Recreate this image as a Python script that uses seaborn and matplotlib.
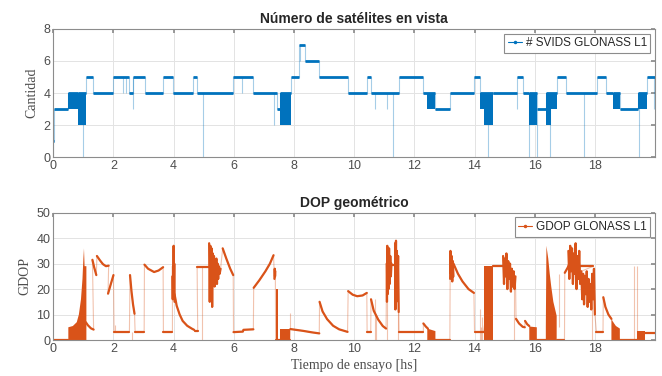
import numpy as np
import pandas as pd
import matplotlib
matplotlib.use("Agg")
import matplotlib.pyplot as plt
import seaborn as sns
from matplotlib.lines import Line2D

# ---- datos: numero de satelites (escalones) ----
sv_t = [0.0, 0.02, 0.5, 0.83, 1.09, 1.31, 1.98, 2.51, 2.64, 3.05,
        3.64, 3.99, 4.65, 4.77, 5.98, 6.65, 7.42, 7.53, 7.89, 8.17,
        8.36, 8.84, 9.78, 10.42, 10.55, 11.5, 12.3, 12.68, 13.18, 13.98,
        14.17, 14.6, 15.4, 15.62, 15.82, 16.07, 16.37, 16.73, 17.04, 18.08,
        18.37, 18.61, 18.83, 19.44, 19.72, 20.0]
sv_n = [1, 3, 4, 4, 5, 4, 5, 4, 5, 4,
        5, 4, 5, 4, 5, 4, 3, 4, 5, 7,
        6, 5, 4, 5, 4, 5, 4, 3, 4, 5,
        4, 4, 5, 4, 4, 3, 4, 5, 4, 5,
        4, 4, 3, 4, 5, 5]

# zonas donde la cantidad oscila rapido
sv_band_t0 = [0.5, 0.83, 7.53, 12.43, 14.17, 14.3, 15.82, 16.37, 16.53, 18.61, 19.44]
sv_band_t1 = [0.83, 1.09, 7.89, 12.68, 14.3, 14.6, 16.07, 16.53, 16.73, 18.83, 19.72]
sv_band_lo = [3, 2, 2, 3, 3, 2, 2, 2, 3, 3, 3]
sv_band_hi = [4, 4, 4, 4, 4, 4, 4, 4, 4, 4, 4]

# caidas puntuales
sv_spike_t = [0.0, 1.0, 2.32, 2.42, 2.64, 4.96, 6.27, 7.34, 8.2, 10.7,
              11.1, 11.3, 14.46, 15.4, 15.82, 16.07, 16.5, 17.64, 19.47, 19.97]
sv_spike_lo = [0, 0, 4, 4, 3, 0, 4, 2, 6, 3, 3, 0, 0, 3, 0, 0, 0, 0, 0, 3]
sv_spike_hi = [3, 4, 5, 5, 5, 4, 5, 4, 7, 4, 4, 4, 4, 4, 4, 3, 4, 4, 4, 5]

# ---- datos: GDOP (tramos separados por nan) ----
nan = np.nan
gdop_t = [0, 0.5, nan,
          1.08, 1.15, 1.25, 1.34, nan,
          1.3, 1.36, 1.43, nan,
          1.45, 1.55, 1.65, 1.75, 1.84, nan,
          1.82, 1.9, 2.0, nan,
          2.02, 2.53, nan,
          2.55, 2.6, 2.65, 2.7, nan,
          2.72, 3.02, nan,
          3.03, 3.15, 3.35, 3.5, 3.65, nan,
          3.66, 3.96, nan,
          3.96, 3.97, 3.98, 3.99, 4.0, 4.01, 4.02, 4.03, nan,
          4.03, 4.1, 4.2, 4.3, 4.45, 4.6, 4.68, nan,
          4.7, 4.8, nan,
          4.78, 5.17, nan,
          5.18, 5.2, 5.22, 5.24, 5.26, 5.28, 5.3, 5.32, 5.34, 5.36,
          5.38, 5.4, 5.42, 5.44, 5.46, 5.48, 5.5, 5.53, 5.56, nan,
          5.63, 5.75, 5.88, 5.98, nan,
          5.99, 6.3, 6.32, 6.65, nan,
          6.66, 6.85, 7.05, 7.2, 7.32, nan,
          7.35, 7.36, 7.37, 7.38, nan,
          7.39, 7.87, nan,
          7.88, 8.3, 8.6, 8.84, nan,
          8.85, 8.95, 9.1, 9.3, 9.5, 9.78, nan,
          9.8, 9.95, 10.1, 10.28, 10.42, nan,
          10.43, 10.55, nan,
          10.56, 10.65, 10.8, 10.95, 11.06, nan,
          11.08, 11.09, 11.1, 11.11, 11.13, 11.14, 11.16, 11.18, 11.2, 11.22, 11.24, nan,
          11.25, 11.35, nan,
          11.36, 11.37, 11.39, 11.4, 11.42, 11.44, 11.46, 11.48, nan,
          11.49, 12.3, nan,
          12.3, 12.38, 12.45, nan,
          12.7, 13.18, nan,
          13.19, 13.2, 13.22, 13.24, 13.26, 13.28, 13.3, nan,
          13.3, 13.45, 13.6, 13.8, 13.98, nan,
          14.0, 14.3, nan,
          14.6, 15.0, nan,
          14.95, 14.98, 15.0, 15.03, 15.06, 15.09, 15.12, 15.15, 15.18, 15.21,
          15.24, 15.27, 15.3, 15.33, 15.36, nan,
          15.38, 15.48, 15.6, 15.67, nan,
          15.68, 15.75, 15.82, nan,
          16.07, 16.37, nan,
          16.74, 16.99, nan,
          17.0, 17.1, 17.2, nan,
          17.12, 17.15, 17.18, 17.21, 17.24, 17.27, 17.3, 17.33, 17.36, 17.39,
          17.42, 17.45, 17.48, 17.51, nan,
          17.52, 17.95, nan,
          17.55, 17.58, 17.61, 17.64, 17.67, 17.7, 17.73, 17.76, 17.79, 17.82,
          17.85, 17.88, 17.91, 17.94, 17.97, 18.0, nan,
          18.05, 18.27, nan,
          18.28, 18.35, 18.45, 18.55, nan,
          18.83, 19.4, nan,
          19.67, 20.0]
gdop_v = [0, 0, nan,
          7.0, 5.8, 4.6, 4.1, nan,
          31.5, 28.5, 25.5, nan,
          33, 31.3, 29.8, 29, 29.2, nan,
          18.2, 21.5, 25.5, nan,
          3, 3, nan,
          25.5, 19, 14, 10.3, nan,
          3, 3, nan,
          29.6, 28, 26.7, 27.3, 28.6, nan,
          3, 3, nan,
          25, 16, 29, 20, 37, 18, 30, 15, nan,
          18, 13.5, 10, 7.5, 5.6, 4.5, 4.0, nan,
          3.5, 3.5, nan,
          28.7, 28.7, nan,
          38, 15, 37, 22, 36, 13, 34, 25, 33, 21,
          31, 26, 32, 22, 30, 24, 29, 26, 28, nan,
          36, 32, 28, 25.5, nan,
          3.1, 3.3, 4.0, 4.2, nan,
          20.5, 23.5, 27, 30, 33.3, nan,
          24, 28, 25, 27, nan,
          0, 0, nan,
          4.3, 3.6, 3.0, 2.6, nan,
          15, 11.2, 8.2, 5.6, 4.2, 3.2, nan,
          19.2, 17.8, 17.2, 17.5, 18.5, nan,
          3, 3, nan,
          16, 11.5, 8, 5.5, 4.5, nan,
          30, 15, 37, 18, 35, 20, 36, 22, 33, 25, 30, nan,
          29.3, 29.3, nan,
          38, 12, 39, 15, 35, 20, 33, 11, nan,
          3, 3, nan,
          6.5, 5.3, 4.5, nan,
          0, 0, nan,
          24, 35, 26, 33, 23, 31, 25, nan,
          30, 26, 23, 20, 18.5, nan,
          3.2, 3.2, nan,
          29, 29, nan,
          33, 22, 32, 25, 34, 20, 31, 24, 30, 19,
          28, 21, 27, 20, 25, nan,
          8.3, 6.5, 5.2, 5.0, nan,
          7.5, 6.2, 5.5, nan,
          0, 0, nan,
          0, 0, nan,
          26.4, 28.5, 31.3, nan,
          35, 24, 37, 27, 36, 22, 34, 26, 38, 20,
          33, 24, 35, 22, nan,
          29, 29, nan,
          27, 16, 26, 14, 25, 18, 27, 13, 24, 15,
          22, 12, 26, 16, 28, 10, nan,
          3.3, 3.3, nan,
          16.8, 13, 10, 8.3, nan,
          0, 0, nan,
          2.7, 2.7]

# zonas rellenas (desde 0 hasta la envolvente)
gdop_fill_t = [0.5, 0.65, 0.78, 0.85, 0.92, 0.97, 1.0, 1.02, 1.04, 1.1, nan,
               7.4, 7.47, nan, 7.53, 7.87, nan, 12.43, 12.7, nan,
               14.3, 14.6, nan, 15.82, 16.07, nan,
               16.37, 16.39, 16.45, 16.5, 16.55, 16.62, 16.68, 16.73, nan,
               18.55, 18.7, 18.83, nan, 19.4, 19.67]
gdop_fill_top = [5, 5.5, 7, 10, 16, 24, 32, 36, 29, 29, nan,
                 20, 20, nan, 4.3, 4.3, nan, 4.5, 3.5, nan,
                 29, 29, nan, 5.3, 5.0, nan,
                 5, 37, 32, 26, 21, 15, 12, 9.5, nan,
                 8, 5.5, 4.5, nan, 3.4, 3.4]

gdop_spike_t = [2.05, 2.6, 4.95, 7.87, 10.68, 10.74, 11.1, 11.45, 12.6,
                14.18, 14.22, 14.26, 15.3, 16.8, 17.9, 19.3, 19.4]
gdop_spike_lo = [3, 0, 0, 4.3, 0, 0, 0, 0, 0, 0, 0, 0, 0, 5, 0, 0, 0]
gdop_spike_hi = [6, 3, 28.7, 10.7, 16, 10, 15, 11, 3, 12, 5, 9, 20, 26, 20, 29, 29]

azul = "#0072BD"
naranja = "#D95319"

sns.set_theme(style="whitegrid")
plt.rcParams["font.family"] = ["Liberation Sans", "DejaVu Sans"]

fig = plt.figure(figsize=(6.62, 3.76), dpi=100)
ax1 = fig.add_axes([0.0805, 0.5824, 0.909, 0.3405])
ax2 = fig.add_axes([0.0805, 0.0957, 0.909, 0.3386])

# ---- panel superior ----
sv = pd.DataFrame({"t": sv_t, "n": sv_n})
sns.lineplot(data=sv, x="t", y="n", ax=ax1, color=azul, lw=0.8, alpha=0.35,
             drawstyle="steps-post", estimator=None, sort=False)
ax1.hlines(sv_n[:-1], sv_t[:-1], sv_t[1:], color=azul, lw=2.0)
for t0, t1, lo, hi in zip(sv_band_t0, sv_band_t1, sv_band_lo, sv_band_hi):
    ax1.fill_between([t0, t1], lo, hi, color=azul, lw=0)
ax1.vlines(sv_spike_t, sv_spike_lo, sv_spike_hi, color=azul, lw=0.8, alpha=0.35)

# ---- panel inferior ----
gd = pd.DataFrame({"t": gdop_t, "v": gdop_v})
gd["tramo"] = gd["t"].isna().cumsum()
gd = gd.dropna()
sns.lineplot(data=gd, x="t", y="v", ax=ax2, color=naranja, lw=0.8, alpha=0.35,
             estimator=None, sort=False)
sns.lineplot(data=gd, x="t", y="v", units="tramo", ax=ax2, color=naranja, lw=1.6,
             estimator=None, sort=False)
ax2.fill_between(gdop_fill_t, 0, gdop_fill_top, color=naranja, lw=0)
ax2.vlines(gdop_spike_t, gdop_spike_lo, gdop_spike_hi, color=naranja, lw=0.8, alpha=0.35)

# ---- estilo tipo MATLAB ----
for ax in (ax1, ax2):
    ax.set_xlim(0, 20)
    ax.set_xticks(range(0, 19, 2))
    ax.grid(True, color="#e3e3e3", lw=0.7)
    ax.tick_params(direction="in", length=3, top=True, right=True,
                   labelsize=9, labelcolor="#4d4d4d", color="#8c8c8c", pad=2)
    for s in ax.spines.values():
        s.set_color("#8c8c8c")
        s.set_linewidth(0.8)
    ax.set_facecolor("white")

ax1.set_ylim(0, 8)
ax1.set_yticks([0, 2, 4, 6, 8])
ax2.set_ylim(0, 50)
ax2.set_yticks([0, 10, 20, 30, 40, 50])

ax1.set_title("Número de satélites en vista", fontsize=10, fontweight="bold", pad=4)
ax2.set_title("DOP geométrico", fontsize=10, fontweight="bold", pad=4)
ax1.set_xlabel("")
ax1.set_ylabel("Cantidad", family="Liberation Serif", fontsize=10, color="#4d4d4d", labelpad=4)
ax2.set_ylabel("GDOP", family="Liberation Serif", fontsize=10, color="#4d4d4d", labelpad=4)
ax2.set_xlabel("Tiempo de ensayo [hs]", family="Liberation Serif", fontsize=10,
               color="#4d4d4d", labelpad=3)

h1 = Line2D([], [], color=azul, lw=0.8, marker=".", markersize=3)
h2 = Line2D([], [], color=naranja, lw=0.8, marker=".", markersize=3)
for ax, h, lab in ((ax1, h1, "# SVIDS GLONASS L1"), (ax2, h2, "GDOP GLONASS L1")):
    leg = ax.legend([h], [lab], loc="upper right", fontsize=8.5, fancybox=False,
                    framealpha=1, edgecolor="#8c8c8c", handlelength=1.2,
                    handletextpad=0.3, borderpad=0.3, borderaxespad=0.4)
    leg.get_frame().set_linewidth(0.8)

fig.savefig("out.png", dpi=100)
